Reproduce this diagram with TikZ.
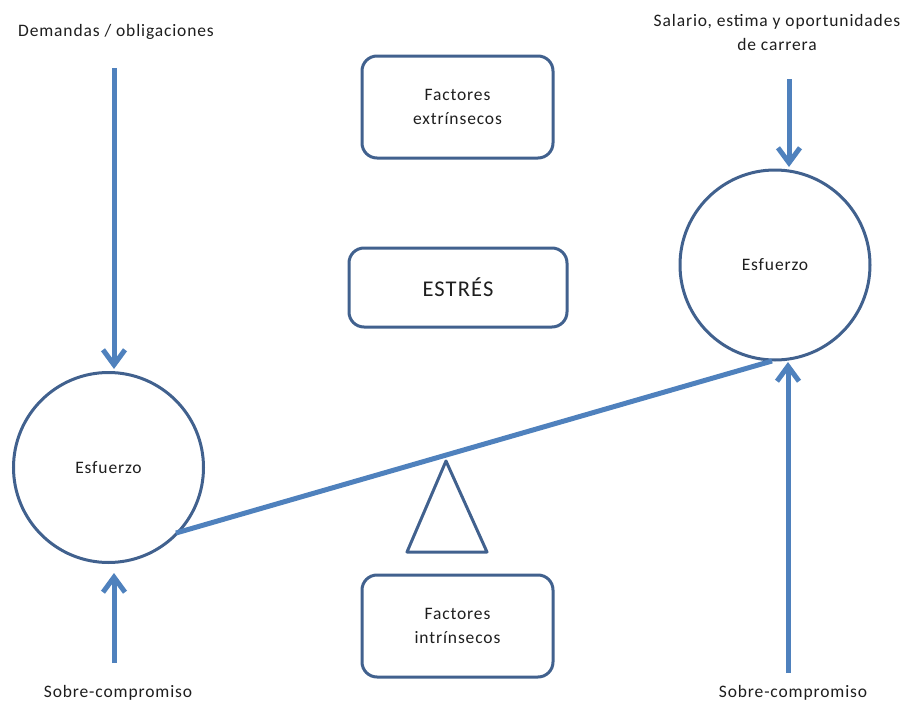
\documentclass[tikz,border=0pt]{standalone}
\usepackage{fontspec}
\setmainfont{Carlito}[LetterSpace=5]
\usetikzlibrary{arrows.meta}
\definecolor{rim}{HTML}{41618E}
\definecolor{flow}{HTML}{4F81BD}
\definecolor{ink}{HTML}{1E1E1E}
\begin{document}
\begin{tikzpicture}[x=1pt,y=-1pt,
  every node/.style={text=ink,font=\fontsize{17.5}{24.5}\selectfont},
  ball/.style={circle,draw=rim,line width=3pt,minimum size=190pt,inner sep=0pt},
  panel/.style={rounded corners=15pt,draw=rim,line width=3pt,inner sep=0pt,align=center},
  push/.style={draw=flow,line width=5pt,-{Straight Barb[length=15pt,width=22pt,line width=5pt]}},
  label/.style={align=center}]
\useasboundingbox (0,0) rectangle (906,704);
% the two weights
\node[ball] (wl) at (108.5,467.5) {Esfuerzo};
\node[ball] (wr) at (775,265) {Esfuerzo};
% boxes in the middle column
\node[panel,minimum width=191pt,minimum height=102pt] (ext) at (457.5,107) {Factores\\extrínsecos};
\node[panel,minimum width=218pt,minimum height=79pt,font=\fontsize{22.5}{24}\selectfont] (stress) at (458,287.5) {ESTRÉS};
\node[panel,minimum width=191pt,minimum height=102pt] (int) at (457.5,626) {Factores\\intrínsecos};
% outer labels
\node[label] (dem) at (116,32) {Demandas / obligaciones};
\node[label] (sal) at (777,32.5) {Salario, estima y oportunidades\\de carrera};
\node[label] (sl) at (118,693) {Sobre-compromiso};
\node[label] (sr) at (793,693) {Sobre-compromiso};
% arrow end points
\coordinate (a1) at (114,68);
\coordinate (a2) at (114,663);
\coordinate (a3) at (789,79);
\coordinate (a4) at (788,673);
\draw[push] (a1) -- (114,369);
\draw[push] (a2) -- (114,573);
\draw[push] (a3) -- (789,167);
\draw[push] (a4) -- (788,362);
% lever and fulcrum
\coordinate (lv1) at (176,533);
\coordinate (lv2) at (772,361);
\draw[flow,line width=5pt] (lv1) -- (lv2);
\coordinate (t1) at (446,461);
\coordinate (t2) at (407,552);
\coordinate (t3) at (487,552);
\draw[rim,line width=3pt,line join=round] (t1) -- (t2) -- (t3) -- cycle;
\end{tikzpicture}
\end{document}
